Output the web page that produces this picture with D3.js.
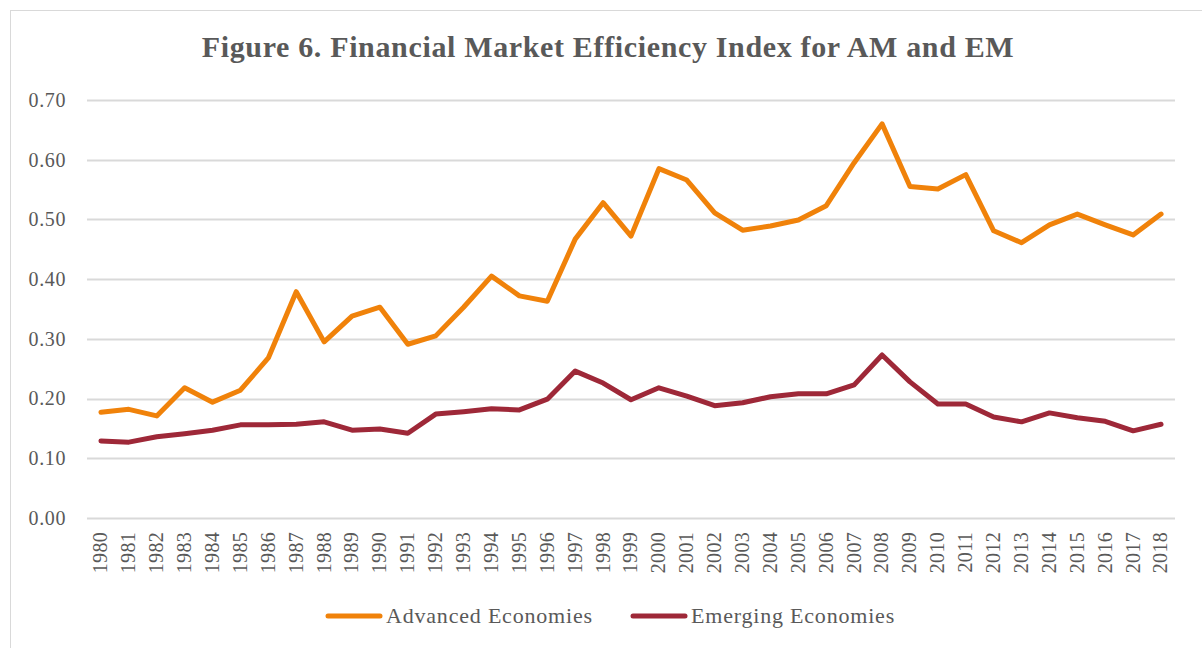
<!DOCTYPE html>
<html>
<head>
<meta charset="utf-8">
<script src="https://cdnjs.cloudflare.com/ajax/libs/d3/7.8.5/d3.min.js"></script>
<style>
body { margin:0; background:#fff; }
svg text { font-family: "Liberation Serif", "DejaVu Serif", serif; fill:#595959; }
</style>
</head>
<body>
<div id="plot"></div>
<script>
// data
var years = ['1980','1981','1982','1983','1984','1985','1986','1987','1988','1989',
	'1990','1991','1992','1993','1994','1995','1996','1997','1998','1999',
	'2000','2001','2002','2003','2004','2005','2006','2007','2008','2009',
	'2010','2011','2012','2013','2014','2015','2016','2017','2018'];

var advanced = [0.177,0.182,0.171,0.218,0.194,0.214,0.268,0.379,0.295,0.338,
	0.353,0.291,0.305,0.353,0.405,0.372,0.363,0.467,0.528,0.472,
	0.585,0.566,0.511,0.482,0.489,0.499,0.523,0.595,0.660,0.555,
	0.551,0.575,0.481,0.461,0.491,0.509,0.491,0.474,0.509];

var emerging = [0.129,0.127,0.136,0.141,0.147,0.156,0.156,0.157,0.161,0.147,
	0.149,0.142,0.174,0.178,0.183,0.181,0.199,0.246,0.226,0.198,
	0.218,0.204,0.188,0.193,0.203,0.208,0.208,0.223,0.273,0.228,
	0.191,0.191,0.169,0.161,0.176,0.168,0.162,0.146,0.157];

var yTicks = [0,0.1,0.2,0.3,0.4,0.5,0.6,0.7];
var seriesNames = ['Advanced Economies','Emerging Economies'];
var seriesColors = ['#F0820A','#9E2838'];

var W = 1202, H = 648;
var margin = {t:100, r:27, b:130, l:87};
var serif = '"Liberation Serif", "DejaVu Serif", serif';

var svg = d3.select('#plot').append('svg')
	.attr('width', W).attr('height', H);

// chart area border
svg.append('rect')
	.attr('x', 10.5).attr('y', 10.5)
	.attr('width', W).attr('height', H)
	.attr('fill', 'none').attr('stroke', '#d9d9d9').attr('stroke-width', 1);

svg.append('text')
	.attr('x', 608).attr('y', 57)
	.attr('text-anchor', 'middle')
	.style('font-family', serif)
	.style('font-size', '30px').style('font-weight', 'bold')
	.style('letter-spacing', '0.65px')
	.text('Figure 6. Financial Market Efficiency Index for AM and EM');

var x = d3.scaleBand().domain(years).range([margin.l, W - margin.r]);
var y = d3.scaleLinear().domain([0, 0.7]).range([H - margin.b, margin.t]);

// gridlines
svg.append('g').selectAll('line').data(yTicks).enter().append('line')
	.attr('x1', margin.l).attr('x2', W - margin.r)
	.attr('y1', function(d){ return Math.round(y(d)) + 0.5; })
	.attr('y2', function(d){ return Math.round(y(d)) + 0.5; })
	.attr('stroke', '#d9d9d9').attr('stroke-width', 2);

var yAxis = svg.append('g')
	.attr('transform', 'translate(' + (margin.l - 21) + ',0)')
	.call(d3.axisLeft(y).tickValues(yTicks).tickFormat(d3.format('.2f')).tickSize(0));
yAxis.select('.domain').remove();
yAxis.selectAll('text')
	.style('font-family', serif)
	.style('font-size', '20px').style('letter-spacing', '0.6px')
	.attr('x', 0);

var xAxis = svg.append('g')
	.attr('transform', 'translate(0,' + (H - margin.b) + ')')
	.call(d3.axisBottom(x).tickSize(0));
xAxis.select('.domain').remove();
xAxis.selectAll('text')
	.style('font-family', serif)
	.style('font-size', '20px').style('letter-spacing', '0.3px')
	.attr('transform', 'rotate(-90)')
	.attr('text-anchor', 'end')
	.attr('x', -14).attr('y', 0).attr('dy', '0.32em');

var line = d3.line()
	.x(function(d, i){ return x(years[i]) + x.bandwidth() / 2; })
	.y(function(d){ return y(d); });

[advanced, emerging].forEach(function(s, i){
	svg.append('path')
		.datum(s)
		.attr('d', line)
		.attr('fill', 'none')
		.attr('stroke', seriesColors[i])
		.attr('stroke-width', 5)
		.attr('stroke-linejoin', 'round')
		.attr('stroke-linecap', 'round');
});

// legend
var legendX = [328, 633];
seriesNames.forEach(function(name, i){
	var g = svg.append('g').attr('transform', 'translate(' + legendX[i] + ',616)');
	g.append('line')
		.attr('x1', 0).attr('x2', 52)
		.attr('stroke', seriesColors[i]).attr('stroke-width', 5)
		.attr('stroke-linecap', 'round');
	g.append('text')
		.attr('x', 58).attr('dy', '0.32em')
		.style('font-family', serif)
		.style('font-size', '22px').style('letter-spacing', '0.8px')
		.text(name);
});
</script>
</body>
</html>
